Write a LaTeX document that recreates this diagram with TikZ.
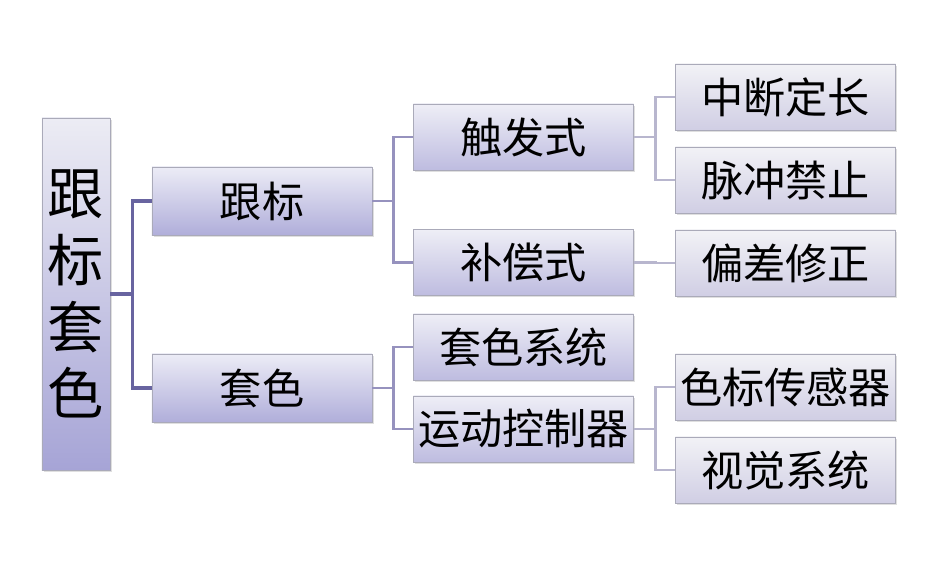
\documentclass[tikz,border=0pt]{standalone}
\usepackage{fontspec}
\newfontfamily\cjk{Noto Sans CJK SC}
\usepackage{tikz}
\usetikzlibrary{shadows, positioning, calc}
\definecolor{LineDark}{RGB}{104,100,160}
\definecolor{LineMid}{RGB}{150,146,190}
\definecolor{LineLight}{RGB}{184,182,206}
\definecolor{BoxEdge}{RGB}{170,170,185}
\tikzstyle{box} = [draw=BoxEdge, line width=0.4pt, inner sep=0pt, font=\cjk\fontsize{30}{31}\selectfont,
  drop shadow={opacity=0.25, shadow xshift=1.2pt, shadow yshift=-1.2pt}]
\tikzstyle{rootbox} = [box, minimum width=1.7cm, minimum height=8.8cm, top color={rgb,255:red,236;green,236;blue,244}, bottom color={rgb,255:red,166;green,164;blue,214}]
\tikzstyle{lvlone} = [box, minimum width=5.5cm, minimum height=1.7cm, top color={rgb,255:red,236;green,236;blue,246}, bottom color={rgb,255:red,176;green,174;blue,218}]
\tikzstyle{lvltwo} = [box, minimum width=5.5cm, minimum height=1.65cm, top color={rgb,255:red,238;green,238;blue,246}, bottom color={rgb,255:red,190;green,188;blue,224}]
\tikzstyle{lvlthree} = [box, minimum width=5.5cm, minimum height=1.65cm, top color={rgb,255:red,242;green,242;blue,246}, bottom color={rgb,255:red,208;green,206;blue,228}]
\tikzstyle{linkone} = [LineDark, line width=2.2pt]
\tikzstyle{linktwo} = [LineMid, line width=2pt]
\tikzstyle{linkthree} = [LineLight, line width=2pt]

\begin{document}
\begin{tikzpicture}[x=0.025cm, y=-0.025cm]
\useasboundingbox (0,0) rectangle (927,569);
% root
\node[rootbox] (root) at (76,294) {\parbox{1.5cm}{\centering\fontsize{40}{47.5}\selectfont 跟\\标\\套\\色}};
% first level
\node[lvlone] (gb) at (262,201) {跟标};
\node[lvlone] (ts) at (262,388) {套色};
% second level
\node[lvltwo] (cfs) at (523.5,137) {触发式};
\node[lvltwo] (bcs) at (523.5,262.5) {补偿式};
\node[lvltwo] (tsxt) at (523.5,347) {套色系统};
\node[lvltwo] (ydkzq) at (523.5,429) {运动控制器};
% third level
\node[lvlthree] (zddc) at (785.5,97) {中断定长};
\node[lvlthree] (mcjz) at (785.5,180) {脉冲禁止};
\node[lvlthree] (pcxz) at (785.5,263) {偏差修正};
\node[lvlthree] (sbcgq) at (785.5,387) {色标传感器};
\node[lvlthree] (sjxt) at (785.5,470) {视觉系统};

% connectors
\foreach \a/\b in {root/gb, root/ts} {
    \draw[linkone] (\a.east) -- ++(22,0) |- (\b.west);
}
\foreach \a/\b in {gb/cfs, gb/bcs, ts/tsxt, ts/ydkzq} {
    \draw[linktwo] (\a.east) -- ++(21,0) |- (\b.west);
}
\foreach \a/\b in {cfs/zddc, cfs/mcjz, bcs/pcxz, ydkzq/sbcgq, ydkzq/sjxt} {
    \draw[linkthree] (\a.east) -- ++(22,0) |- (\b.west);
}
\end{tikzpicture}
\end{document}
